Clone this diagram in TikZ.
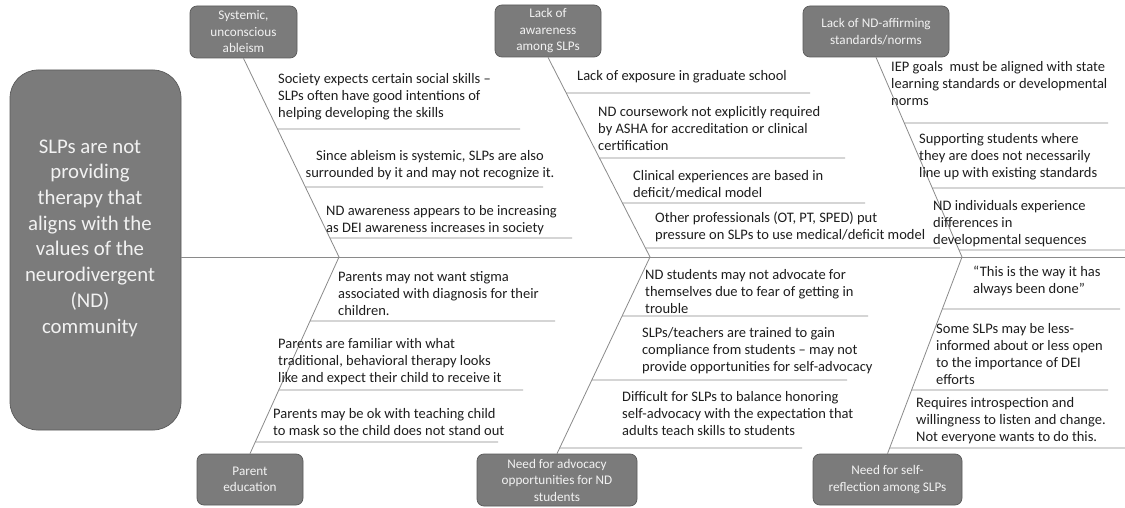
\documentclass[tikz,border=0pt]{standalone}
\usepackage{fontspec}
\setmainfont{Carlito}
\definecolor{catfill}{HTML}{7B7B7B}
\definecolor{catborder}{HTML}{5A5A5A}
\definecolor{linegray}{HTML}{8A8A8A}
\definecolor{textblack}{HTML}{1E1E1E}
\definecolor{boxtext}{HTML}{F2F2F2}
\tikzset{
  cat/.style={draw=catborder, fill=catfill, rounded corners=7pt, text=boxtext,
    font=\fontsize{13.2}{16.5}\selectfont, align=center, inner sep=0pt, line width=0.7pt},
  effect/.style={draw=catborder, fill=catfill, rounded corners=28pt, text=boxtext,
    inner sep=0pt, line width=0.7pt},
  bone/.style={draw=linegray, line width=0.8pt},
  cause/.style={font=\fontsize{14.5}{17}\selectfont, text=textblack, align=left,
    inner sep=0pt, anchor=north west},
  causec/.style={cause, align=center, anchor=north},
}
\newcommand\subl[4]{\draw[bone] (intersection of #1--#2 and 0,#3--100,#3) -- (#4,#3);}
\begin{document}
\begin{tikzpicture}[x=1pt,y=-1pt]
\useasboundingbox[fill=white] (0,0) rectangle (1125,508);
% effect
\node[effect, minimum width=171pt, minimum height=360pt] (main) at (95.5,250) {};
\node[text=boxtext, font=\fontsize{20.8}{25.7}\selectfont, align=center, inner sep=0pt] (maintext) at (90,238)
  {SLPs are not\\providing\\therapy that\\aligns with the\\values of the\\neurodivergent\\(ND)\\community};
% categories
\node[cat, minimum width=107pt, minimum height=52pt] (b1) at (243.5,32) {Systemic,\\unconscious\\ableism};
\node[cat, minimum width=106pt, minimum height=52pt] (b2) at (548,31) {Lack of\\awareness\\among SLPs};
\node[cat, minimum width=146pt, minimum height=51pt] (b3) at (876,31.5) {Lack of ND-affirming\\standards/norms};
\node[cat, minimum width=106pt, minimum height=51pt] (b4) at (250,479.5) {Parent\\education};
\node[cat, minimum width=160pt, minimum height=52pt] (b5) at (557,480) {Need for advocacy\\opportunities for ND\\students};
\node[cat, minimum width=149pt, minimum height=51pt] (b6) at (887.5,479.5) {Need for self-\\reflection among SLPs};
% spine
\coordinate (j1) at (339,257);
\coordinate (j2) at (650,257);
\coordinate (j3) at (962,257);
\coordinate (send) at (1125,257);
\draw[bone] (main.east |- j1) -- (send);
% bones
\draw[bone] (b1.south) -- (j1);
\draw[bone] (b2.south) -- (j2);
\draw[bone] (b3.south) -- (j3);
\draw[bone] (j1) -- (b4.north);
\draw[bone] (j2) -- (b5.north);
\draw[bone] (j3) -- (b6.north);
% top 1
\node[cause] (t1a) at (278,73) {Society expects certain social skills --\\SLPs often have good intentions of\\helping developing the skills};
\subl{b1.south}{j1}{129}{520}
\node[causec] (t1b) at (430,150) {Since ableism is systemic, SLPs are also\\surrounded by it and may not recognize it.};
\subl{b1.south}{j1}{187}{543}
\node[cause] (t1c) at (326,205) {ND awareness appears to be increasing\\as DEI awareness increases in society};
\subl{b1.south}{j1}{238}{572}
% top 2
\node[cause] (t2a) at (577,70) {Lack of exposure in graduate school};
\subl{b2.south}{j2}{93}{810}
\node[cause] (t2b) at (598,106) {ND coursework not explicitly required\\by ASHA for accreditation or clinical\\certification};
\subl{b2.south}{j2}{158}{845}
\node[cause] (t2c) at (633,170) {Clinical experiences are based in\\deficit/medical model};
\subl{b2.south}{j2}{203}{865}
\node[cause] (t2d) at (655,212) {Other professionals (OT, PT, SPED) put\\pressure on SLPs to use medical/deficit model};
\subl{b2.south}{j2}{248}{940}
% top 3
\node[cause] (t3a) at (891,61) {IEP goals\ \ must be aligned with state\\learning standards or developmental\\norms};
\subl{b3.south}{j3}{123}{1108}
\node[cause] (t3b) at (919,133) {Supporting students where\\they are does not necessarily\\line up with existing standards};
\subl{b3.south}{j3}{188}{1125}
\node[cause] (t3c) at (933,200) {ND individuals experience\\differences in\\developmental sequences};
\subl{b3.south}{j3}{250}{1125}
% bottom 1
\node[cause] (u1a) at (338,271) {Parents may not want stigma\\associated with diagnosis for their\\children.};
\subl{j1}{b4.north}{321}{555}
\node[cause] (u1b) at (278,338) {Parents are familiar with what\\traditional, behavioral therapy looks\\like and expect their child to receive it};
\subl{j1}{b4.north}{390}{523}
\node[cause] (u1c) at (273,408) {Parents may be ok with teaching child\\to mask so the child does not stand out};
\subl{j1}{b4.north}{442}{498}
% bottom 2
\node[cause] (u2a) at (645,269) {ND students may not advocate for\\themselves due to fear of getting in\\trouble};
\subl{j2}{b5.north}{316}{868}
\node[cause] (u2b) at (642,327) {SLPs/teachers are trained to gain\\compliance from students -- may not\\provide opportunities for self-advocacy};
\subl{j2}{b5.north}{380}{847}
\node[cause] (u2c) at (622,391) {Difficult for SLPs to balance honoring\\self-advocacy with the expectation that\\adults teach skills to students};
\subl{j2}{b5.north}{448}{802}
% bottom 3
\node[cause] (u3a) at (973,266) {“This is the way it has\\always been done”};
\subl{j3}{b6.north}{309}{1120}
\node[cause] (u3b) at (936,323) {Some SLPs may be less-\\informed about or less open\\to the importance of DEI\\efforts};
\subl{j3}{b6.north}{390}{1108}
\node[cause] (u3c) at (916,397) {Requires introspection and\\willingness to listen and change.\\Not everyone wants to do this.};
\subl{j3}{b6.north}{448}{1125}
\end{tikzpicture}
\end{document}
